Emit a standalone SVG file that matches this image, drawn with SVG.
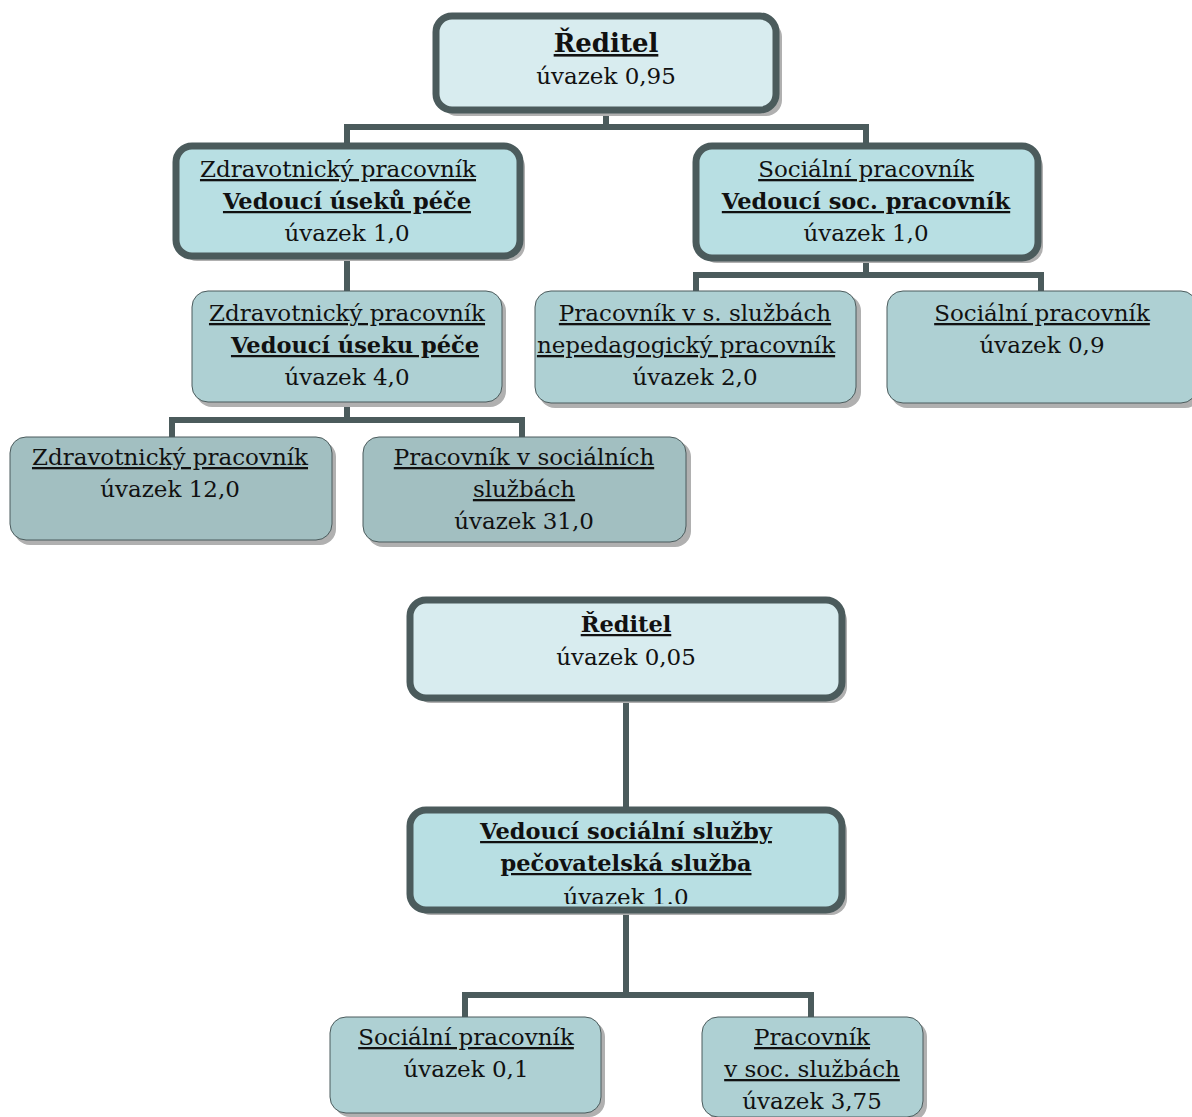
<svg xmlns="http://www.w3.org/2000/svg" width="1192" height="1117" viewBox="0 0 1192 1117">
<style>
text{font-family:"DejaVu Serif","Liberation Serif",serif;font-size:23px;fill:#111;text-anchor:middle}
.b{font-weight:bold;font-size:22.5px}
.big{font-size:26px}
.u{text-decoration:underline}
.thick{stroke:#4b5b5c;stroke-width:7}
.thin{stroke:#4b5b5c;stroke-width:1}
.sh{fill:#b0b0b0}
.c1{fill:#d8ecef}
.c2{fill:#b8dfe3}
.c3{fill:#aed0d3}
.c4{fill:#a2bfc1}
.conn{fill:none;stroke:#4b5b5c;stroke-width:6}
</style>
<defs>
<clipPath id="clipB2"><rect x="414" y="814" width="424" height="90"/></clipPath>
</defs>
<rect width="1192" height="1117" fill="#fff"/>
<g id="connectors">
<path class="conn" d="M606 110V127M347 145V127H866V145"/>
<path class="conn" d="M347 255V291"/>
<path class="conn" d="M347 402V420M172 437V420H522V437"/>
<path class="conn" d="M866 258V275M696 291V275H1041V291"/>
<path class="conn" d="M626 698V810"/>
<path class="conn" d="M626 910V995M465 1017V995H811V1017"/>
</g>
<g id="n1">
<rect class="sh" x="441" y="21" width="341" height="95" rx="16"/>
<rect class="c1 thick" x="436" y="16" width="340" height="94" rx="16"/>
<text x="606" y="52" class="b u big">Ředitel</text>
<text x="606" y="84">úvazek 0,95</text>
</g>
<g id="n2l">
<rect class="sh" x="181" y="151" width="344" height="110" rx="16"/>
<rect class="c2 thick" x="176" y="146" width="344" height="110" rx="16"/>
<text x="338" y="177" class="u">Zdravotnický pracovník</text>
<text x="347" y="209" class="b u">Vedoucí úseků péče</text>
<text x="347" y="241">úvazek 1,0</text>
</g>
<g id="n2r">
<rect class="sh" x="701" y="151" width="342" height="112" rx="16"/>
<rect class="c2 thick" x="696" y="146" width="342" height="112" rx="16"/>
<text x="866" y="177" class="u">Sociální pracovník</text>
<text x="866" y="209" class="b u">Vedoucí soc. pracovník</text>
<text x="866" y="241">úvazek 1,0</text>
</g>
<g id="n3">
<rect class="sh" x="196" y="295" width="310" height="112" rx="16"/>
<rect class="c3 thin" x="192" y="291" width="310" height="111" rx="16"/>
<text x="347" y="321" class="u">Zdravotnický pracovník</text>
<text x="355" y="353" class="b u">Vedoucí úseku péče</text>
<text x="347" y="385">úvazek 4,0</text>
</g>
<g id="n3a">
<rect class="sh" x="539" y="295" width="322" height="113" rx="16"/>
<rect class="c3 thin" x="535" y="291" width="321" height="112" rx="16"/>
<text x="695" y="321" class="u">Pracovník v s. službách</text>
<text x="686" y="353" class="u">nepedagogický pracovník</text>
<text x="695" y="385">úvazek 2,0</text>
</g>
<g id="n3b">
<rect class="sh" x="891" y="295" width="310" height="113" rx="16"/>
<rect class="c3 thin" x="887" y="291" width="310" height="112" rx="16"/>
<text x="1042" y="321" class="u">Sociální pracovník</text>
<text x="1042" y="353">úvazek 0,9</text>
</g>
<g id="n4l">
<rect class="sh" x="14" y="441" width="322" height="104" rx="16"/>
<rect class="c4 thin" x="10" y="437" width="322" height="103" rx="16"/>
<text x="170" y="465" class="u">Zdravotnický pracovník</text>
<text x="170" y="497">úvazek 12,0</text>
</g>
<g id="n4r">
<rect class="sh" x="367" y="441" width="324" height="106" rx="16"/>
<rect class="c4 thin" x="363" y="437" width="323" height="105" rx="16"/>
<text x="524" y="465" class="u">Pracovník v sociálních</text>
<text x="524" y="497" class="u">službách</text>
<text x="524" y="529">úvazek 31,0</text>
</g>
<g id="b1">
<rect class="sh" x="415" y="605" width="432" height="98" rx="16"/>
<rect class="c1 thick" x="410" y="600" width="432" height="98" rx="16"/>
<text x="626" y="632" class="b u">Ředitel</text>
<text x="626" y="665">úvazek 0,05</text>
</g>
<g id="b2">
<rect class="sh" x="415" y="815" width="432" height="100" rx="16"/>
<rect class="c2 thick" x="410" y="810" width="432" height="100" rx="16"/>
<text x="626" y="839" class="b u">Vedoucí sociální služby</text>
<text x="626" y="871" class="b u">pečovatelská služba</text>
<text x="626" y="905" clip-path="url(#clipB2)">úvazek 1.0</text>
</g>
<g id="b3">
<rect class="sh" x="334" y="1021" width="271" height="96" rx="16"/>
<rect class="c3 thin" x="330" y="1017" width="271" height="96" rx="16"/>
<text x="466" y="1045" class="u">Sociální pracovník</text>
<text x="466" y="1077">úvazek 0,1</text>
</g>
<g id="b4">
<rect class="sh" x="706" y="1021" width="221" height="100" rx="16"/>
<rect class="c3 thin" x="702" y="1017" width="221" height="100" rx="16"/>
<text x="812" y="1045" class="u">Pracovník</text>
<text x="812" y="1077" class="u">v soc. službách</text>
<text x="812" y="1109">úvazek 3,75</text>
</g>
</svg>
